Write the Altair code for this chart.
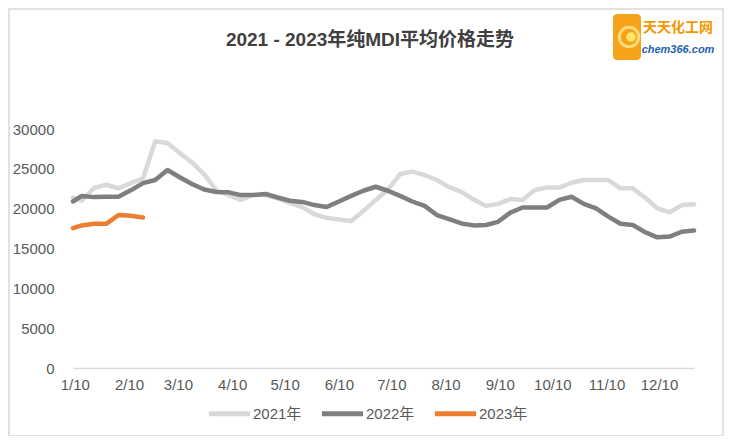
import altair as alt
import pandas as pd

# x positions: days after Jan 10 (one entry per weekly observation)
day_offsets = [-1, 4, 11, 18, 25, 32, 39, 46, 53, 60, 67, 74, 81, 88, 95, 102, 109, 116,
               123, 130, 137, 144, 151, 158, 165, 172, 179, 186, 193, 200, 207, 214, 221,
               228, 235, 242, 249, 256, 263, 270, 277, 284, 291, 298, 305, 312, 319, 326,
               333, 340, 347, 354]

v2021 = [21400, 21000, 22600, 23000, 22550, 23200, 23800, 28450, 28250, 27000, 25800, 24300,
         22300, 21700, 21100, 21750, 21700, 21300, 20700, 20200, 19300, 18850, 18650, 18450,
         19700, 21100, 22350, 24350, 24650, 24200, 23600, 22700, 22100, 21150, 20350, 20600,
         21200, 21100, 22350, 22650, 22650, 23250, 23600, 23600, 23600, 22550, 22550, 21400,
         20050, 19550, 20450, 20550]

v2022 = [20900, 21600, 21450, 21500, 21500, 22300, 23200, 23600, 24850, 23950, 23100, 22400,
         22100, 22050, 21700, 21700, 21850, 21400, 21000, 20850, 20450, 20200, 20900, 21600,
         22250, 22750, 22250, 21600, 20900, 20350, 19200, 18700, 18150, 17900, 17950, 18350,
         19500, 20150, 20150, 20150, 21100, 21500, 20600, 20050, 19000, 18100, 17950, 17050,
         16400, 16500, 17100, 17250]

v2023 = [17550, 17900, 18100, 18100, 19200, 19100, 18900]

series_names = ["2021年", "2022年", "2023年"]
series_colors = ["#d9d9d9", "#7f7f7f", "#ed7d31"]

tick_days = [0, 31, 59, 90, 120, 151, 181, 212, 243, 273, 304, 334]
tick_labels = ["1/10", "2/10", "3/10", "4/10", "5/10", "6/10", "7/10", "8/10", "9/10",
               "10/10", "11/10", "12/10"]

y_ticks = [0, 5000, 10000, 15000, 20000, 25000, 30000]

title_text = "2021 - 2023年纯MDI平均价格走势"

rows = []
for name, vals in zip(series_names, [v2021, v2022, v2023]):
    for i, v in enumerate(vals):
        rows.append({"series": name, "day": day_offsets[i], "value": v, "order": i})
df = pd.DataFrame(rows)

label_expr = ""
for d, l in zip(tick_days, tick_labels):
    label_expr += f"datum.value == {d} ? '{l}' : "
label_expr += "''"

FONT = "Liberation Sans, Noto Sans CJK SC"
W, H = 621, 239

lines = alt.Chart(df).mark_line(strokeWidth=4.5, strokeJoin="round", strokeCap="round").encode(
    x=alt.X("day:Q",
            scale=alt.Scale(domain=[-1, 354], nice=False, zero=False),
            axis=alt.Axis(values=tick_days, labelExpr=label_expr, title=None, grid=False,
                          ticks=False, domainColor="#d9d9d9", domainWidth=1.5,
                          labelFontSize=15, labelColor="#595959", labelFont=FONT,
                          labelPadding=9, labelOverlap=False, labelFlush=False)),
    y=alt.Y("value:Q",
            scale=alt.Scale(domain=[0, 30000], nice=False),
            axis=alt.Axis(values=y_ticks, title=None, grid=False, ticks=False, domain=False,
                          labelFontSize=15, labelColor="#595959", labelFont=FONT,
                          labelPadding=19, format="d")),
    color=alt.Color("series:N",
                    scale=alt.Scale(domain=series_names, range=series_colors),
                    legend=alt.Legend(title=None, orient="none", legendX=133, legendY=261,
                                      direction="horizontal", symbolType="stroke",
                                      symbolStrokeWidth=5, symbolSize=1700,
                                      labelFontSize=15, labelColor="#595959", labelFont=FONT,
                                      labelOffset=0, columnPadding=9, padding=0)),
    order="order:Q",
)

one = pd.DataFrame({"k": [0]})

border = alt.Chart(one).mark_rect(fill=None, stroke="#d9d9d9", strokeWidth=1.5).encode(
    x=alt.value(-64), x2=alt.value(650), y=alt.value(-120), y2=alt.value(307))

title = alt.Chart(one).mark_text(fontSize=19, fontWeight="bold", color="#404040",
                                 font=FONT, baseline="middle", align="center").encode(
    x=alt.value(297), y=alt.value(-89), text=alt.value(title_text))

logo_box = alt.Chart(one).mark_rect(fill="#f7a21b", cornerRadius=4).encode(
    x=alt.value(540), x2=alt.value(568), y=alt.value(-115), y2=alt.value(-69))
logo_ring = alt.Chart(one).mark_point(shape="circle", filled=False, stroke="#fff3a0",
                                      strokeWidth=3, size=380).encode(
    x=alt.value(556), y=alt.value(-92))
logo_ring2 = alt.Chart(one).mark_point(shape="circle", filled=True, fill="#ffe566",
                                       opacity=1, size=90).encode(
    x=alt.value(558), y=alt.value(-92))
logo_cn = alt.Chart(one).mark_text(fontSize=14, fontWeight="bold", color="#f39800",
                                   font="Noto Sans CJK SC", align="center",
                                   baseline="middle").encode(
    x=alt.value(605), y=alt.value(-101), text=alt.value("天天化工网"))
logo_en = alt.Chart(one).mark_text(fontSize=11, fontWeight="bold", fontStyle="italic",
                                   color="#1d5fae", font="Liberation Sans", align="center",
                                   baseline="middle").encode(
    x=alt.value(605), y=alt.value(-79), text=alt.value("chem366.com"))

chart = alt.layer(border, lines, title, logo_box, logo_ring, logo_ring2, logo_cn, logo_en).properties(
    width=W, height=H,
    autosize=alt.AutoSizeParams(type="none"),
    padding={"left": 65, "top": 121, "right": 30, "bottom": 68},
    background="white",
).configure_view(stroke=None)

chart.save("out.html", embed_options={"renderer": "svg", "actions": False})
